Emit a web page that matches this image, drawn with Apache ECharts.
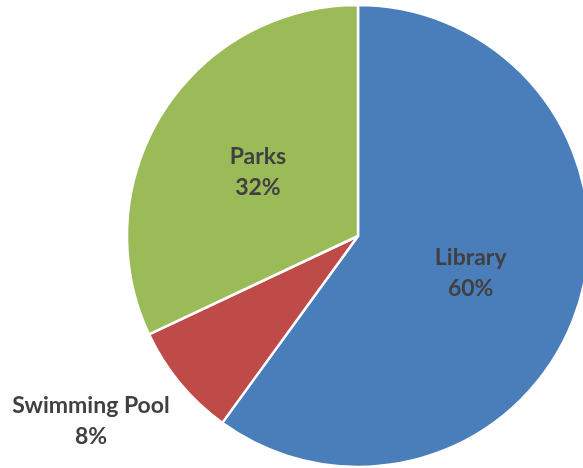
<!DOCTYPE html>
<html><head><meta charset="utf-8">
<script src="https://cdn.jsdelivr.net/npm/echarts@6/dist/echarts.min.js"></script>
<style>html,body{margin:0;padding:0;background:#fff}#c{width:583px;height:468px}</style>
</head><body><div id="c"></div>
<script>
const categories = ['Library', 'Swimming Pool', 'Parks'];
const values = [60, 8, 32];
const colors = ['#4A7EBB', '#BE4B48', '#9BBB59'];

const chart = echarts.init(document.getElementById('c'), null, {renderer: 'canvas'});
chart.setOption({
  animation: false,
  series: [{
    type: 'pie',
    center: [358, 236],
    radius: [0, 231],
    startAngle: 90,
    clockwise: true,
    data: categories.map((n, i) => ({
      name: n, value: values[i],
      itemStyle: {color: colors[i]},
      label: i === 1 ? {position: 'outside'} : {position: 'inside'}
    })),
    itemStyle: {borderColor: '#fff', borderWidth: 2.5},
    label: {
      formatter: '{b}\n{d}%',
      fontFamily: 'Lato',
      fontWeight: 'bold',
      fontSize: 23,
      lineHeight: 31,
      color: '#404040',
      align: 'center',
      overflow: 'none'
    },
    labelLine: {show: false},
    labelLayout: function (p) {
      if (p.dataIndex === 1) return {x: 91, y: 421, align: 'center', verticalAlign: 'middle'};
    }
  }]
});
</script></body></html>
